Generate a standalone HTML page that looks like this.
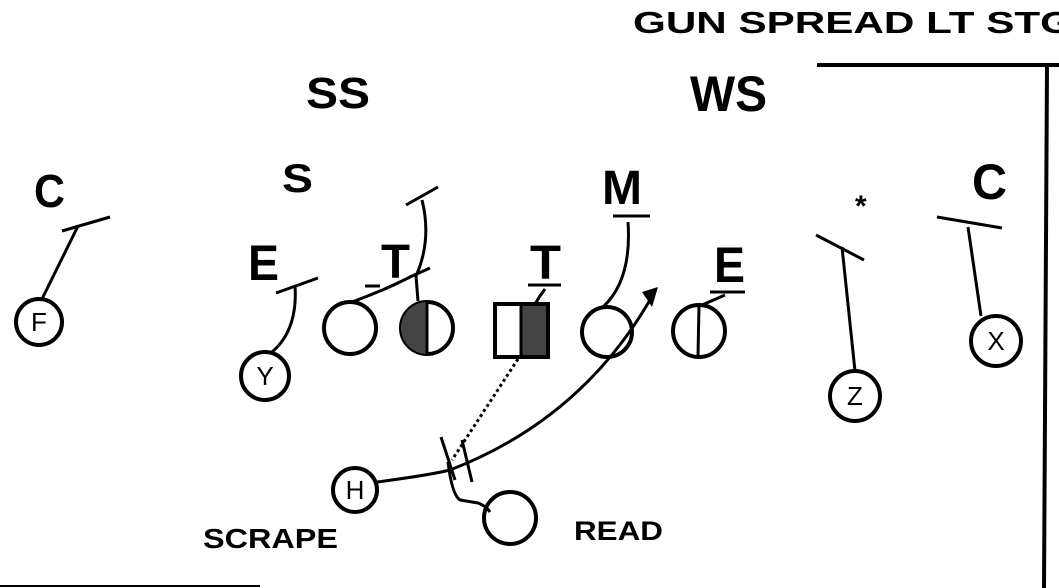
<!DOCTYPE html>
<html><head><style>
html,body{margin:0;padding:0;background:#fff;width:1059px;height:588px;overflow:hidden}
text{font-family:"Liberation Sans",sans-serif;font-weight:bold;fill:#000}
</style></head><body>
<svg width="1059" height="588" viewBox="0 0 1059 588" xmlns="http://www.w3.org/2000/svg">
<text x="633" y="33" font-size="31" textLength="440" lengthAdjust="spacingAndGlyphs">GUN SPREAD LT STG</text>
<line x1="817" y1="65" x2="1059" y2="65" stroke="#000" stroke-width="4"/>
<line x1="1047" y1="67" x2="1044" y2="588" stroke="#000" stroke-width="4"/>
<line x1="0" y1="586" x2="260" y2="586" stroke="#000" stroke-width="2"/>
<text x="306" y="108" font-size="44" textLength="64" lengthAdjust="spacingAndGlyphs">SS</text>
<text x="690" y="111" font-size="50" textLength="77" lengthAdjust="spacingAndGlyphs">WS</text>
<text x="34" y="207" font-size="46" textLength="31" lengthAdjust="spacingAndGlyphs">C</text>
<text x="282" y="192" font-size="40" textLength="31" lengthAdjust="spacingAndGlyphs">S</text>
<text x="602" y="204" font-size="48" textLength="40" lengthAdjust="spacingAndGlyphs">M</text>
<line x1="613" y1="216" x2="650" y2="216" stroke="#000" stroke-width="3"/>
<text x="855" y="216" font-size="30">*</text>
<text x="972" y="199" font-size="50" textLength="35" lengthAdjust="spacingAndGlyphs">C</text>
<text x="248" y="280" font-size="50" textLength="31" lengthAdjust="spacingAndGlyphs">E</text>
<text x="381" y="278" font-size="48" textLength="29" lengthAdjust="spacingAndGlyphs">T</text>
<line x1="365" y1="286" x2="380" y2="286" stroke="#000" stroke-width="3"/>
<text x="530" y="279" font-size="48" textLength="31" lengthAdjust="spacingAndGlyphs">T</text>
<line x1="528" y1="285" x2="561" y2="285" stroke="#000" stroke-width="3"/>
<text x="714" y="282" font-size="50" textLength="31" lengthAdjust="spacingAndGlyphs">E</text>
<line x1="710" y1="292" x2="745" y2="292" stroke="#000" stroke-width="3"/>
<text x="203" y="548" font-size="28" textLength="135" lengthAdjust="spacingAndGlyphs">SCRAPE</text>
<text x="574" y="540" font-size="27" textLength="89" lengthAdjust="spacingAndGlyphs">READ</text>
<g fill="none" stroke="#000" stroke-width="4">
<circle cx="39" cy="322" r="23"/>
<circle cx="265" cy="376" r="24"/>
<circle cx="350" cy="328" r="26"/>
<circle cx="427" cy="328" r="26"/>
<rect x="495" y="304" width="53" height="53"/>
<circle cx="607" cy="332" r="25"/>
<circle cx="699" cy="331" r="26"/>
<circle cx="855" cy="396" r="25"/>
<circle cx="996" cy="341" r="25"/>
<circle cx="355" cy="490" r="22"/>
<circle cx="510" cy="518" r="26"/>
</g>
<g fill="none" stroke="#000" stroke-width="3">
<line x1="699" y1="306" x2="698" y2="356"/>
<path d="M42 299 L78 226 M62 231 L110 217"/>
<path d="M272 352 Q298 330 295 285 M276 293 L318 278"/>
<path d="M352 302 Q385 290 412 276 M410 277 L430 268"/>
<path d="M418 301 L416 276 Q432 240 422 200 M406 205 L438 187"/>
<path d="M535 304 L540 296 L545 289"/>
<path d="M628 222 Q632 280 603 307"/>
<path d="M702 305 L725 295"/>
<path d="M855 371 L842 247 M816 235 L864 260"/>
<path d="M981 316 L968 227 M937 217 L1002 228"/>
<path d="M377 482 Q430 475 450 470 Q580 420 650 300"/>
<path d="M441 437 L455 480 M462 440 L472 482"/>
<path d="M448 462 Q452 495 460 500 L478 503 Q486 506 490 512"/>
<path d="M518 359 L452 460" stroke-dasharray="3,3"/>
</g>
<polygon points="642,292 658,287 652,307" fill="#000"/>
<path d="M427 302 A26 26 0 0 0 427 354 Z" fill="#444"/>
<rect x="521" y="306" width="25" height="49" fill="#444"/>
<line x1="521" y1="304" x2="521" y2="357" stroke="#000" stroke-width="3"/>
<line x1="427" y1="302" x2="427" y2="354" stroke="#000" stroke-width="3"/>
<g font-size="26" text-anchor="middle">
<text x="39" y="331" style="font-weight:normal">F</text>
<text x="265" y="385" style="font-weight:normal">Y</text>
<text x="855" y="405" style="font-weight:normal">Z</text>
<text x="996" y="350" style="font-weight:normal">X</text>
<text x="355" y="499" style="font-weight:normal">H</text>
</g>
</svg>
</body></html>
